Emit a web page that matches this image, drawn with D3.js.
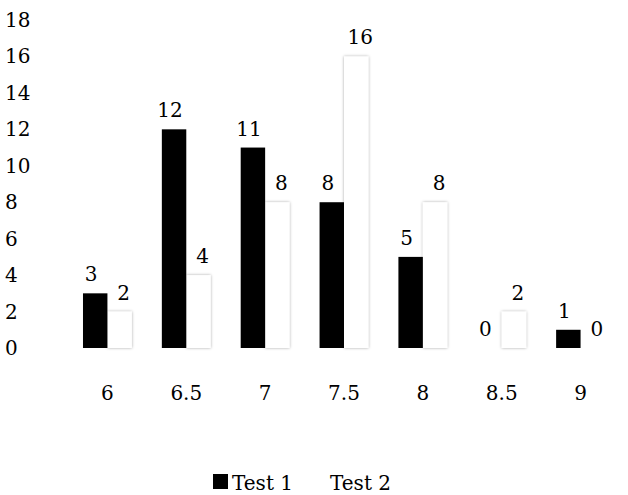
<!DOCTYPE html><html><head><meta charset="utf-8"><script src="https://cdn.jsdelivr.net/npm/d3@7"></script>
<style>body{margin:0;background:#fff}text{font-family:"DejaVu Serif","Liberation Serif",serif;font-size:20px;fill:#000}</style></head><body>
<svg id="c" width="628" height="495"></svg>
<script>
const categories=["6","6.5","7","7.5","8","8.5","9"];
const test1=[3,12,11,8,5,0,1];
const test2=[2,4,8,16,8,2,0];
const yTicks=[0,2,4,6,8,10,12,14,16,18];
const svg=d3.select("#c");
const defs=svg.append("defs");
const f=defs.append("filter").attr("id","sh").attr("x","-50%").attr("y","-10%").attr("width","200%").attr("height","120%");
f.append("feDropShadow").attr("dx",0).attr("dy",0).attr("stdDeviation",1.5).attr("flood-color","#000").attr("flood-opacity",0.35);
const x=d3.scaleBand().domain(categories).range([68,620]).paddingInner(0.38).paddingOuter(0.19);
const y=d3.scaleLinear().domain([0,18]).range([348,20]);
const bw=x.bandwidth()/2;
svg.append("g").selectAll("text").data(yTicks).join("text").attr("x",5).attr("y",d=>y(d)).attr("dy","0.35em").text(d=>d);
categories.forEach((c,i)=>{
  const x0=x(c);
  svg.append("rect").attr("x",x0+bw).attr("width",bw).attr("y",y(test2[i])).attr("height",y(0)-y(test2[i])).attr("fill","#fff").attr("filter","url(#sh)");
  svg.append("rect").attr("x",x0).attr("width",bw).attr("y",y(test1[i])).attr("height",y(0)-y(test1[i])).attr("fill","#000");
  svg.append("text").attr("x",x0+bw/2-4).attr("y",y(test1[i])-12).attr("text-anchor","middle").text(test1[i]);
  svg.append("text").attr("x",x0+bw*1.5+4).attr("y",y(test2[i])-12).attr("text-anchor","middle").text(test2[i]);
  svg.append("text").attr("x",x0+bw).attr("y",400).attr("text-anchor","middle").text(c);
});
svg.append("rect").attr("x",213).attr("y",474).attr("width",15).attr("height",15).attr("fill","#000");
svg.append("text").attr("x",232).attr("y",490).text("Test 1");
svg.append("rect").attr("x",310).attr("y",474).attr("width",15).attr("height",15).attr("fill","#fff");
svg.append("text").attr("x",330).attr("y",490).text("Test 2");
</script></body></html>
